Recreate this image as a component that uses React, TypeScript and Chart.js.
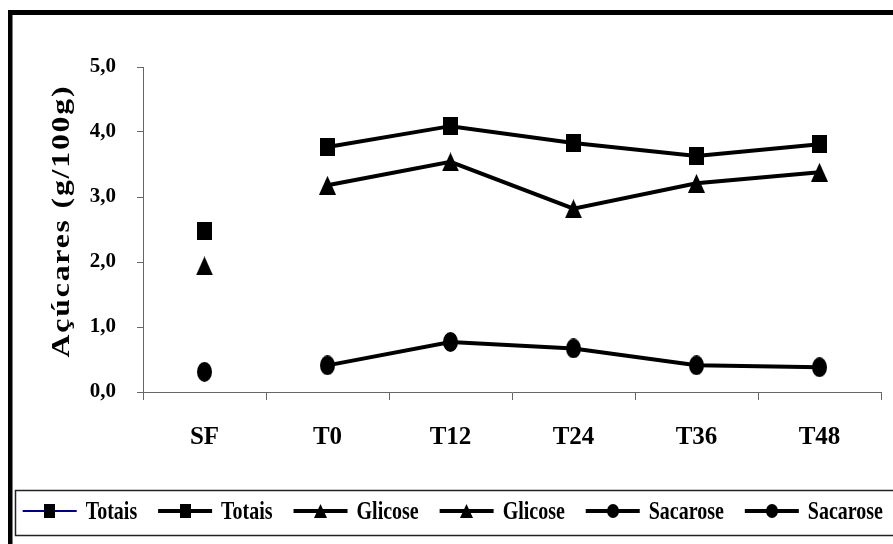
import React, { useEffect, useRef } from 'react';
import { Chart, registerables } from 'chart.js';

Chart.register(...registerables);

const categories = ['SF', 'T0', 'T12', 'T24', 'T36', 'T48'];
const totaisSF = [2.47, null, null, null, null, null];
const totais = [null, 3.77, 4.09, 3.83, 3.63, 3.81];
const glicoseSF = [1.94, null, null, null, null, null];
const glicose = [null, 3.18, 3.54, 2.82, 3.21, 3.38];
const sacaroseSF = [0.31, null, null, null, null, null];
const sacarose = [null, 0.41, 0.77, 0.67, 0.41, 0.38];
const yTicks = [0, 1, 2, 3, 4, 5];
const yTitle = 'Açúcares (g/100g)';
const seriesNames = ['Totais', 'Totais', 'Glicose', 'Glicose', 'Sacarose', 'Sacarose'];

const FAMILY = '"Liberation Serif", "Times New Roman", serif';

function marker(shape: string, w: number, h: number) {
  const c = document.createElement('canvas');
  c.width = w;
  c.height = h;
  const ctx = c.getContext('2d')!;
  ctx.fillStyle = '#000';
  if (shape === 'square') {
    ctx.fillRect(0, 0, w, h);
  } else if (shape === 'triangle') {
    ctx.beginPath();
    ctx.moveTo(w / 2, 0);
    ctx.lineTo(w, h);
    ctx.lineTo(0, h);
    ctx.closePath();
    ctx.fill();
  } else {
    ctx.beginPath();
    ctx.ellipse(w / 2, h / 2, w / 2, h / 2, 0, 0, Math.PI * 2);
    ctx.fill();
  }
  return c;
}

const overlayPlugin = {
  id: 'overlay',
  afterDraw(chart: any) {
    const ctx = chart.ctx;
    ctx.save();
    // legend
    ctx.font = `bold 20px ${FAMILY}`;
    const sample = 54;
    const gapText = 9;
    const left = 14.7;
    const right = 875;
    const ds = chart.data.datasets;
    const widths = ds.map((d: any) => sample + gapText + ctx.measureText(d.label).width);
    const total = widths.reduce((a: number, b: number) => a + b, 0);
    const gap = (right - left - total) / (ds.length - 1);
    let x = left;
    const y = 503;
    ds.forEach((d: any, i: number) => {
      ctx.strokeStyle = d.legendLineColor;
      ctx.lineWidth = d.legendLineWidth;
      ctx.beginPath();
      ctx.moveTo(x, y);
      ctx.lineTo(x + sample, y);
      ctx.stroke();
      const m = d.legendMarker;
      ctx.drawImage(m, Math.round(x + sample / 2 - m.width / 2), Math.round(y - m.height / 2));
      ctx.save();
      ctx.translate(x + sample + gapText, y + 1);
      ctx.scale(1, 1.3);
      ctx.fillStyle = '#000';
      ctx.textBaseline = 'middle';
      ctx.textAlign = 'left';
      ctx.fillText(d.label, 0, 0);
      ctx.restore();
      x += widths[i] + gap;
    });
    ctx.strokeStyle = '#222';
    ctx.lineWidth = 1.5;
    ctx.strokeRect(7.5, 482.5, 900, 45);

    // y-axis title
    ctx.save();
    ctx.translate(54, 213);
    ctx.rotate(-Math.PI / 2);
    ctx.scale(1.22, 1);
    ctx.font = `bold 26px ${FAMILY}`;
    (ctx as any).letterSpacing = '1.5px';
    ctx.textAlign = 'center';
    ctx.textBaseline = 'middle';
    ctx.fillStyle = '#000';
    ctx.fillText(yTitle, 0, 0);
    ctx.restore();

    // outer frame
    ctx.fillStyle = '#000';
    ctx.fillRect(0, 2, 885, 5);
    ctx.fillRect(0, 2, 4.5, 540);
    ctx.restore();
  },
};

export default function App() {
  const ref = useRef<HTMLCanvasElement | null>(null);

  useEffect(() => {
    if (!ref.current) return;
    const sq = marker('square', 15, 18);
    const tr = marker('triangle', 17, 19);
    const ci = marker('circle', 15, 20);
    const sqL = marker('square', 11, 14);
    const trL = marker('triangle', 13, 14);
    const ciL = marker('circle', 12, 14);
    const series = [totaisSF, totais, glicoseSF, glicose, sacaroseSF, sacarose];
    const pts = [sq, sq, tr, tr, ci, ci];
    const legendPts = [sqL, sqL, trL, trL, ciL, ciL];
    const datasets = series.map((data, i) => ({
      label: seriesNames[i],
      data,
      showLine: i % 2 === 1,
      borderColor: '#000',
      backgroundColor: '#000',
      borderWidth: 4,
      pointStyle: pts[i],
      pointRadius: 8,
      spanGaps: false,
      legendMarker: legendPts[i],
      legendLineColor: i === 0 ? '#000080' : '#000',
      legendLineWidth: i === 0 ? 2 : 4,
    }));

    const chart = new Chart(ref.current, {
      type: 'line',
      data: { labels: categories, datasets: datasets as any },
      options: {
        responsive: false,
        animation: false,
        layout: { padding: { left: 0, top: 59, right: 6, bottom: 0 } },
        plugins: {
          legend: { display: false },
          tooltip: { enabled: false },
        },
        scales: {
          x: {
            type: 'category',
            offset: true,
            grid: { offset: true, drawOnChartArea: false, tickLength: 8, color: '#666' },
            border: { color: '#666', width: 1 },
            ticks: {
              font: { family: FAMILY, size: 25, weight: 'bold' },
              color: '#000',
              padding: 23,
              maxRotation: 0,
              autoSkip: false,
            },
            afterFit: (s: any) => {
              s.height = 152;
            },
          },
          y: {
            min: 0,
            max: 5,
            afterBuildTicks: (s: any) => {
              s.ticks = yTicks.map((v) => ({ value: v }));
            },
            grid: { drawOnChartArea: false, tickLength: 6, color: '#666' },
            border: { color: '#666', width: 1 },
            ticks: {
              font: { family: FAMILY, size: 21, weight: 'bold' },
              color: '#000',
              padding: 21,
              callback: (v: any) => Number(v).toFixed(1).replace('.', ','),
            },
            afterFit: (s: any) => {
              s.width = 135;
            },
          },
        },
      } as any,
      plugins: [overlayPlugin],
    });
    return () => chart.destroy();
  }, []);

  return (
    <div style={{ position: 'fixed', left: 8, top: 8, width: 885, height: 536 }}>
      <canvas ref={ref} width={885} height={536} style={{ display: 'block' }} />
    </div>
  );
}
